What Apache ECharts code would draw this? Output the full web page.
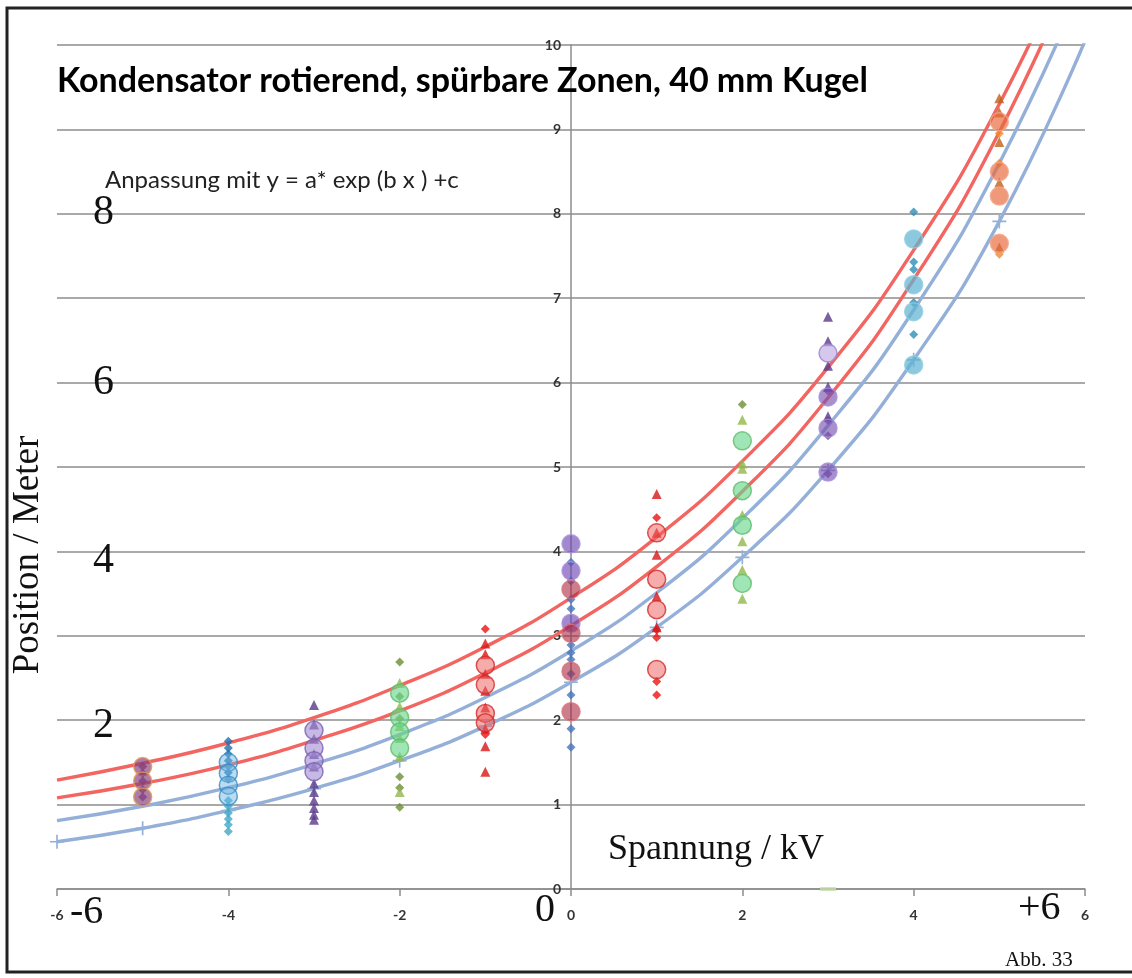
<!DOCTYPE html>
<html>
<head>
<meta charset="utf-8">
<script src="https://cdn.jsdelivr.net/npm/echarts@6/dist/echarts.min.js"></script>
<style>
html,body{margin:0;padding:0;background:#fff;}
#chart{width:1132px;height:978px;}
</style>
</head>
<body>
<div id="chart"></div>
<script>
// ---------- Data ----------
const curveX = [-6, -5, -4, -3, -2, -1, 0, 1, 2, 3, 4, 5, 6];
const redUpper  = [1.29, 1.49, 1.73, 2.03, 2.41, 2.87, 3.45, 4.17, 5.07, 6.18, 7.57, 9.30, 11.45];
const redLower  = [1.08, 1.25, 1.47, 1.76, 2.11, 2.56, 3.12, 3.82, 4.71, 5.82, 7.22, 8.97, 11.17];
const blueUpper = [0.81, 0.98, 1.20, 1.48, 1.83, 2.27, 2.82, 3.51, 4.39, 5.49, 6.86, 8.60, 10.78];
const blueLower = [0.56, 0.72, 0.93, 1.19, 1.52, 1.93, 2.45, 3.10, 3.93, 4.96, 6.27, 7.91, 10.05];

// column x = -5
const circM5 = [1.45, 1.28, 1.09];
const diamM5 = [1.45, 1.37, 1.28, 1.18, 1.09];
// column x = -4
const circM4 = [1.50, 1.37, 1.23, 1.10];
const diamM4a = [1.75, 1.67, 1.60, 1.52, 1.45, 1.38, 1.30];
const diamM4b = [1.05, 0.98, 0.90, 0.83, 0.76, 0.68];
// column x = -3
const circM3 = [1.88, 1.67, 1.52, 1.39];
const triM3 = [2.18, 1.95, 1.78, 1.60, 1.45, 1.25, 1.15, 1.05, 0.96, 0.88, 0.82];
// column x = -2
const circM2 = [2.32, 2.03, 1.86, 1.67];
const triM2 = [2.44, 2.16, 1.93, 1.79, 1.57, 1.15];
const diamM2 = [2.69, 2.28, 2.02, 1.33, 1.20, 0.97];
// column x = -1
const circM1 = [2.65, 2.42, 2.08, 1.97];
const triM1 = [2.91, 2.78, 2.55, 2.35, 2.15, 1.90, 1.69, 1.39];
const diamM1 = [3.08, 1.83];
// column x = 0
const circP0a = [4.09, 3.77, 3.15];
const circP0b = [3.55, 3.03, 2.58, 2.10];
const diamP0 = [3.87, 3.65, 3.43, 3.32, 2.89, 2.80, 2.72, 2.55, 2.30, 1.90, 1.68];
// column x = 1
const circP1 = [4.22, 3.67, 3.31, 2.60];
const triP1 = [4.68, 4.22, 3.96, 3.47, 3.10];
const diamP1 = [4.40, 3.07, 2.98, 2.46, 2.30];
// column x = 2
const circP2 = [5.31, 4.72, 4.31, 3.62];
const triP2 = [5.56, 5.04, 4.98, 4.43, 4.12, 3.78, 3.44];
const diamP2 = [5.74];
// column x = 3
const circP3a = [6.35];
const circP3b = [5.83, 5.46, 4.94];
const triP3 = [6.78, 6.49, 6.20, 5.95, 5.60];
const diamP3 = [5.90, 5.55, 5.37, 4.92];
// column x = 4
const circP4 = [7.70, 7.16, 6.84, 6.21];
const diamP4 = [8.02, 7.43, 7.34, 6.95, 6.57];
// column x = 5
const circP5 = [9.09, 8.50, 8.21, 7.65];
const triP5 = [9.37, 9.20, 8.85, 8.37, 7.60];
const diamP5 = [8.95, 8.60, 7.52];

const yTicks = [0, 1, 2, 3, 4, 5, 6, 7, 8, 9, 10];
const xTicks = [-6, -4, -2, 0, 2, 4, 6];

// ---------- marker groups: [x, values, kind, styleKey] ----------
const groups = [
  [-5, diamM5, 'diamond', 'm5d'], [-5, circM5, 'circle', 'm5c'],
  [-4, diamM4a, 'diamond', 'm4da'], [-4, diamM4b, 'diamond', 'm4db'], [-4, circM4, 'circle', 'm4c'],
  [-3, triM3, 'triangle', 'm3t'], [-3, circM3, 'circle', 'm3c'],
  [-2, diamM2, 'diamond', 'm2d'], [-2, triM2, 'triangle', 'm2t'], [-2, circM2, 'circle', 'm2c'],
  [-1, diamM1, 'diamond', 'm1d'], [-1, triM1, 'triangle', 'm1t'], [-1, circM1, 'circle', 'm1c'],
  [0, diamP0, 'diamond', 'p0d'], [0, circP0a, 'circle', 'p0ca'], [0, circP0b, 'circle', 'p0cb'],
  [1, diamP1, 'diamond', 'p1d'], [1, triP1, 'triangle', 'p1t'], [1, circP1, 'circle', 'p1c'],
  [2, diamP2, 'diamond', 'p2d'], [2, triP2, 'triangle', 'p2t'], [2, circP2, 'circle', 'p2c'],
  [3, diamP3, 'diamond', 'p3d'], [3, triP3, 'triangle', 'p3t'], [3, circP3b, 'circle', 'p3cb'], [3, circP3a, 'circle', 'p3ca'],
  [4, diamP4, 'diamond', 'p4d'], [4, circP4, 'circle', 'p4c'],
  [5, diamP5, 'diamond', 'p5d'], [5, triP5, 'triangle', 'p5t'], [5, circP5, 'circle', 'p5c']
];

// ---------- styles ----------
const styles = {
  m5d: {color: '#7c3f78'}, m5c: {color: 'rgba(135,65,125,0.85)', borderColor: '#e39a55'},
  m4da: {color: '#1d6fae'}, m4db: {color: '#3fa7c6'}, m4c: {color: 'rgba(110,180,225,0.6)', borderColor: '#3b8cc0'},
  m3t: {color: '#5a3a8a'}, m3c: {color: 'rgba(160,138,208,0.75)', borderColor: '#7a60b0'},
  m2d: {color: '#6b8e35'}, m2t: {color: '#92b84c'}, m2c: {color: 'rgba(105,215,140,0.8)', borderColor: '#62bb6a'},
  m1d: {color: '#ee1111'}, m1t: {color: '#d81616'}, m1c: {color: 'rgba(240,95,95,0.65)', borderColor: '#d22a2a'},
  p0d: {color: '#4674bd'}, p0ca: {color: 'rgba(110,70,180,0.8)', borderColor: '#a690dc'}, p0cb: {color: 'rgba(170,40,65,0.75)', borderColor: '#d8707c'},
  p1d: {color: '#ee1111'}, p1t: {color: '#d81616'}, p1c: {color: 'rgba(240,95,95,0.65)', borderColor: '#d22a2a'},
  p2d: {color: '#6b8e35'}, p2t: {color: '#92b84c'}, p2c: {color: 'rgba(105,215,140,0.8)', borderColor: '#62bb6a'},
  p3d: {color: '#7b52a8'}, p3t: {color: '#5a3a8a'}, p3cb: {color: 'rgba(120,80,175,0.8)', borderColor: '#a690dc'}, p3ca: {color: 'rgba(195,175,228,0.85)', borderColor: '#9a84cc'},
  p4d: {color: '#2f8fb8'}, p4c: {color: 'rgba(95,180,210,0.9)', borderColor: '#8fcde0'},
  p5d: {color: '#f08a30'}, p5t: {color: '#c0601a'}, p5c: {color: 'rgba(232,105,60,0.85)', borderColor: '#f2a58a'}
};
const sizes = {circle: 18, diamond: 9, triangle: 10};

const series = [];
const lines = [
  [redUpper, '#f26560'], [redLower, '#f26560'], [blueUpper, '#94b0d8'], [blueLower, '#94b0d8']
];
lines.forEach(function (l, i) {
  const isPlus = i === 3;
  series.push({
    type: 'line',
    data: curveX.map(function (x, j) { return [x, l[0][j]]; }),
    smooth: 0.5,
    clip: true,
    z: 2,
    showSymbol: isPlus,
    symbol: isPlus ? 'path://M4.4,0h1.2v4.4h4.4v1.2h-4.4v4.4h-1.2v-4.4h-4.4v-1.2h4.4z' : 'none',
    symbolSize: 14,
    itemStyle: {color: l[1]},
    lineStyle: {color: l[1], width: 3.4},
    silent: true
  });
});
groups.forEach(function (g) {
  const st = styles[g[3]];
  series.push({
    type: 'scatter',
    data: g[1].map(function (v) { return [g[0], v]; }),
    symbol: g[2],
    symbolSize: sizes[g[2]],
    z: g[2] === 'circle' ? 4 : 3,
    itemStyle: {
      color: st.color,
      borderColor: st.borderColor || st.color,
      borderWidth: g[2] === 'circle' ? 1.5 : 0
    }
  });
});
// tiny green mark on the x axis
series.push({
  type: 'scatter', data: [[3, 0]], symbol: 'rect', symbolSize: [16, 4],
  itemStyle: {color: '#c7dcae'}, z: 5
});

const chart = echarts.init(document.getElementById('chart'));
const serif = '"Liberation Serif", "DejaVu Serif", serif';
const sans = 'Lato, "Open Sans", sans-serif';
chart.setOption({
  animation: false,
  backgroundColor: '#ffffff',
  grid: {left: 57, right: 47, top: 45, bottom: 89, containLabel: false},
  xAxis: {
    type: 'value', min: -6, max: 6, interval: 2,
    axisLine: {show: true, onZero: false, lineStyle: {color: '#8c8c8c', width: 1.5}},
    axisTick: {show: true, length: 7, lineStyle: {color: '#8c8c8c', width: 1.5}},
    axisLabel: {
      color: '#333', fontSize: 14, fontWeight: 'bold', fontFamily: sans, margin: 19,
      formatter: function (v) { return xTicks.indexOf(v) >= 0 ? String(v) : ''; }
    },
    splitLine: {show: false}
  },
  yAxis: {
    type: 'value', min: 0, max: 10, interval: 1,
    position: 'left', offset: -514,
    axisLine: {show: true, onZero: false, lineStyle: {color: '#8c8c8c', width: 1.5}},
    axisTick: {show: false},
    axisLabel: {
      color: '#333', fontSize: 14, fontWeight: 'bold', fontFamily: sans, margin: 10,
      formatter: function (v) { return yTicks.indexOf(v) >= 0 ? String(v) : ''; }
    },
    splitLine: {show: true, lineStyle: {color: '#8c8c8c', width: 1.5}}
  },
  series: series,
  graphic: [
    {type: 'rect', shape: {x: 7, y: 8, width: 1140, height: 964}, style: {fill: 'none', stroke: '#222', lineWidth: 3}, z: 100},
    {type: 'text', left: 57, top: 64, style: {text: 'Kondensator rotierend, spürbare Zonen, 40 mm Kugel', font: 'bold 34px ' + sans, fill: '#000'}, z: 100},
    {type: 'text', left: 105, top: 168, style: {text: 'Anpassung mit y = a* exp (b x ) +c', font: '24px ' + sans, fill: '#222'}, z: 100},
    {type: 'text', left: 93, top: 192, style: {text: '8', font: '42px ' + serif, fill: '#111'}, z: 100},
    {type: 'text', left: 93, top: 362, style: {text: '6', font: '42px ' + serif, fill: '#111'}, z: 100},
    {type: 'text', left: 93, top: 540, style: {text: '4', font: '42px ' + serif, fill: '#111'}, z: 100},
    {type: 'text', left: 93, top: 705, style: {text: '2', font: '42px ' + serif, fill: '#111'}, z: 100},
    {type: 'text', x: 28, y: 555, rotation: Math.PI / 2, style: {text: 'Position / Meter', font: '37px ' + serif, fill: '#111', align: 'center', verticalAlign: 'middle'}, z: 100},
    {type: 'text', left: 608, top: 832, style: {text: 'Spannung / kV', font: '36px ' + serif, fill: '#111'}, z: 100},
    {type: 'text', left: 70, top: 892, style: {text: '-6', font: '40px ' + serif, fill: '#111'}, z: 100},
    {type: 'text', left: 535, top: 890, style: {text: '0', font: '40px ' + serif, fill: '#111'}, z: 100},
    {type: 'text', left: 1018, top: 888, style: {text: '+6', font: '40px ' + serif, fill: '#111'}, z: 100},
    {type: 'text', left: 1005, top: 950, style: {text: 'Abb. 33', font: '21px ' + serif, fill: '#111'}, z: 100}
  ]
});
</script>
</body>
</html>
